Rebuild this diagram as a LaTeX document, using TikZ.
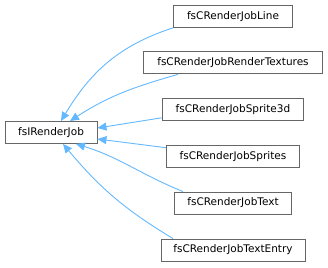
\documentclass[tikz,border=0pt]{standalone}
\usepackage{fontspec}
\setmainfont{DejaVu Sans}
\usetikzlibrary{arrows.meta}
\definecolor{edgeblue}{HTML}{63B8FF}
\definecolor{boxgray}{HTML}{666666}
\begin{document}
\begin{tikzpicture}[x=1pt,y=1pt,
  cls/.style={draw=boxgray, line width=0.9pt, fill=white, inner xsep=0pt, inner ysep=0pt,
    minimum height=22pt, font=\fontsize{10.5}{12}\selectfont, anchor=center},
  inh/.style={draw=edgeblue, line width=0.9pt, -{Triangle[length=9pt,width=8pt]}}]
\useasboundingbox (0,0) rectangle (328,267);
\node[cls, minimum width=92pt] (base) at (51,134.5) {fsIRenderJob};
\node[cls, minimum width=119pt] (line) at (233,250.6) {fsCRenderJobLine};
\node[cls, minimum width=179.4pt] (tex) at (233,204.1) {fsCRenderJobRenderTextures};
\node[cls, minimum width=141.7pt] (s3d) at (233,157.2) {fsCRenderJobSprite3d};
\node[cls, minimum width=133.3pt] (spr) at (233,110.3) {fsCRenderJobSprites};
\node[cls, minimum width=116.7pt] (txt) at (233,64) {fsCRenderJobText};
\node[cls, minimum width=144pt] (txe) at (233,17) {fsCRenderJobTextEntry};
\draw[inh] (line.south west) to[out=198,in=59] ([xshift=10pt]base.north);
\draw[inh] ([xshift=-55pt]tex.south) to[out=196,in=33] ([xshift=19pt]base.north);
\draw[inh] ([yshift=-8pt]s3d.west) -- ([yshift=4.5pt]base.east);
\draw[inh] ([yshift=9pt]spr.west) -- ([yshift=-6.5pt]base.east);
\draw[inh] ([xshift=-50pt]txt.north) to[out=158,in=-17] ([xshift=25pt]base.south);
\draw[inh] ([xshift=-60pt]txe.north) to[out=149,in=-50] ([xshift=12pt]base.south);
\end{tikzpicture}
\end{document}
